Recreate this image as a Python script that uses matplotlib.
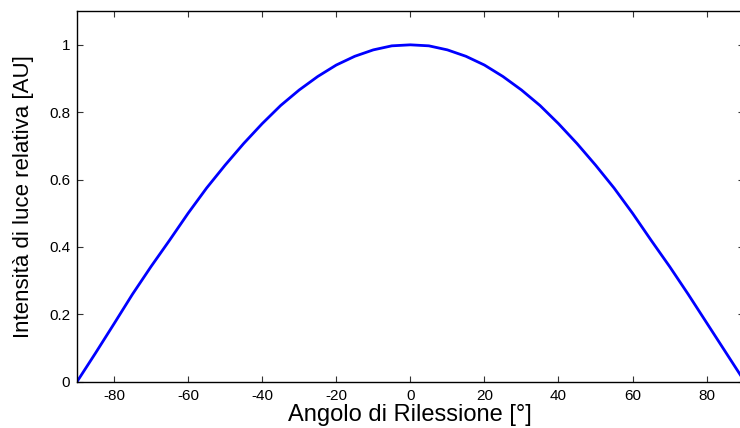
import matplotlib.pyplot as plt

plt.rcParams["font.family"] = ["Liberation Sans", "DejaVu Sans"]

angolo = [-90, -85, -80, -75, -70, -65, -60, -55, -50, -45, -40, -35, -30,
          -25, -20, -15, -10, -5, 0, 5, 10, 15, 20, 25, 30, 35, 40, 45,
          50, 55, 60, 65, 70, 75, 80, 85, 90]
intensita = [0.0, 0.085, 0.172, 0.26, 0.342, 0.42, 0.5, 0.575, 0.643, 0.707,
             0.766, 0.82, 0.866, 0.906, 0.94, 0.966, 0.985, 0.997, 1.0,
             0.997, 0.985, 0.966, 0.94, 0.906, 0.866, 0.82, 0.766, 0.707,
             0.643, 0.575, 0.5, 0.42, 0.342, 0.26, 0.175, 0.09, 0.005]

x_ticks = [-80, -60, -40, -20, 0, 20, 40, 60, 80]
y_ticks = [0, 0.2, 0.4, 0.6, 0.8, 1]


def main():
    fig = plt.figure(figsize=(7.4, 4.28), dpi=100)
    ax = fig.add_axes([0.104, 0.108, 0.901, 0.866])

    ax.plot(angolo, intensita, color="#0000ff", linewidth=2.0)

    ax.set_xlim(-90, 90)
    ax.set_ylim(0, 1.1)
    ax.set_xticks(x_ticks)
    ax.set_xticklabels([str(t) for t in x_ticks])
    ax.set_yticks(y_ticks)
    ax.set_yticklabels(["0", "0.2", "0.4", "0.6", "0.8", "1"])

    ax.tick_params(direction="in", length=4, width=0.8, color="#333333",
                   labelsize=11, top=True, right=True, pad=5)
    for spine in ax.spines.values():
        spine.set_linewidth(1.0)

    ax.set_xlabel("Angolo di Rilessione [°]", fontsize=17, labelpad=1)
    ax.set_ylabel("Intensità di luce relativa [AU]", fontsize=16, labelpad=11)

    fig.savefig("out.png", dpi=100)
    plt.close(fig)


if __name__ == "__main__":
    main()
